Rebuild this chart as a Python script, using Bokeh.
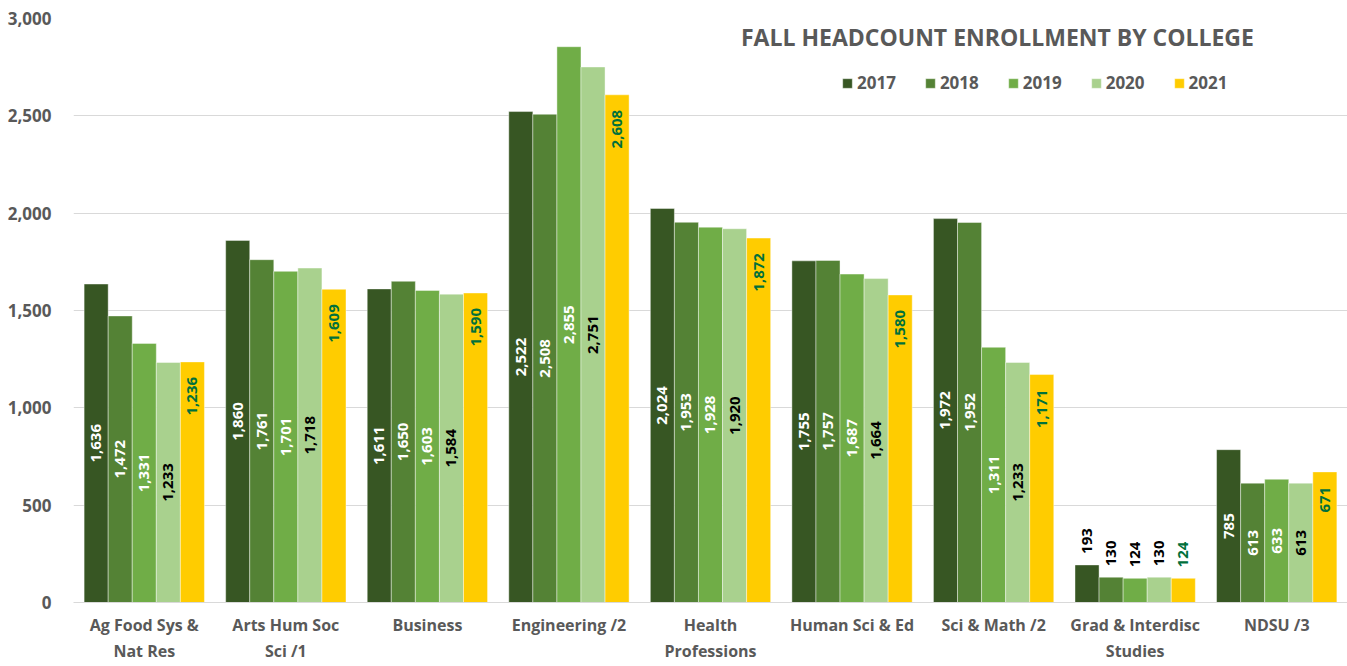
import math
from bokeh.plotting import figure
from bokeh.models import (ColumnDataSource, LabelSet, Label, Legend, LegendItem,
                          Range1d, FixedTicker, NumeralTickFormatter)
from bokeh.core.properties import value
from bokeh.embed import file_html
from bokeh.resources import INLINE

categories = ["Ag Food Sys &\nNat Res", "Arts Hum Soc\nSci /1", "Business", "Engineering /2",
              "Health\nProfessions", "Human Sci & Ed", "Sci & Math /2",
              "Grad & Interdisc\nStudies", "NDSU /3"]
years = ["2017", "2018", "2019", "2020", "2021"]
y2017 = [1636, 1860, 1611, 2522, 2024, 1755, 1972, 193, 785]
y2018 = [1472, 1761, 1650, 2508, 1953, 1757, 1952, 130, 613]
y2019 = [1331, 1701, 1603, 2855, 1928, 1687, 1311, 124, 633]
y2020 = [1233, 1718, 1584, 2751, 1920, 1664, 1233, 130, 613]
y2021 = [1236, 1609, 1590, 2608, 1872, 1580, 1171, 124, 671]
series = [y2017, y2018, y2019, y2020, y2021]
y_ticks = [0, 500, 1000, 1500, 2000, 2500, 3000]

colors = ["#375623", "#548235", "#70AD47", "#A9D18E", "#FFCC00"]
label_colors = ["#FFFFFF", "#FFFFFF", "#FFFFFF", "#000000", "#00703C"]
GREY = "#595959"
FONT = "Open Sans"

p = figure(width=1347, height=666, output_backend="svg", toolbar_location=None,
           x_range=Range1d(-0.5, 8.5), y_range=Range1d(0, 3000),
           min_border_left=73, min_border_right=0, min_border_top=18, min_border_bottom=64)
p.outline_line_color = None
p.background_fill_color = "white"
p.border_fill_color = "white"

bw = 0.17
offsets = [-2 * bw, -bw, 0, bw, 2 * bw]

legend_items = []
for i, (yr, vals) in enumerate(zip(years, series)):
    xs = [k + offsets[i] for k in range(len(categories))]
    src = ColumnDataSource(dict(x=xs, top=vals))
    r = p.vbar(x="x", top="top", width=bw, source=src, fill_color=colors[i],
               line_color="white", line_width=0.6, line_alpha=0.7)
    legend_items.append(LegendItem(label=yr, renderers=[r]))

    center = dict(x=[], y=[], t=[])
    inside = dict(x=[], y=[], t=[])
    outside = dict(x=[], y=[], t=[])
    for x, v in zip(xs, vals):
        txt = f"{v:,}"
        if v < 400:
            outside["x"].append(x); outside["y"].append(v); outside["t"].append(txt)
        elif i == 4:
            inside["x"].append(x); inside["y"].append(v); inside["t"].append(txt)
        else:
            center["x"].append(x); center["y"].append(v / 2); center["t"].append(txt)
    common = dict(x="x", y="y", text="t", angle=math.pi / 2, text_font=value(FONT),
                  text_font_size="15px", text_font_style="bold", text_baseline="middle")
    if center["x"]:
        p.add_layout(LabelSet(source=ColumnDataSource(center), text_align="center",
                              text_color=label_colors[i], **common))
    if inside["x"]:
        p.add_layout(LabelSet(source=ColumnDataSource(inside), text_align="right",
                              y_offset=-15, text_color=label_colors[i], **common))
    if outside["x"]:
        oc = "#00703C" if i == 4 else "#000000"
        p.add_layout(LabelSet(source=ColumnDataSource(outside), text_align="left",
                              y_offset=11, text_color=oc, **common))

# axes
p.xaxis.ticker = FixedTicker(ticks=list(range(len(categories))))
p.xaxis.major_label_overrides = {k: c for k, c in enumerate(categories)}
p.xaxis.major_tick_line_color = None
p.xaxis.minor_tick_line_color = None
p.xaxis.axis_line_color = "#D9D9D9"
p.xaxis.major_label_text_font = FONT
p.xaxis.major_label_text_font_style = "bold"
p.xaxis.major_label_text_font_size = "16px"
p.xaxis.major_label_text_color = GREY
p.xaxis.major_label_standoff = 5
p.xgrid.grid_line_color = None

p.yaxis.ticker = FixedTicker(ticks=y_ticks)
p.yaxis.formatter = NumeralTickFormatter(format="0,0")
p.yaxis.axis_line_color = None
p.yaxis.major_tick_line_color = None
p.yaxis.minor_tick_line_color = None
p.yaxis.major_label_text_font = FONT
p.yaxis.major_label_text_font_style = "bold"
p.yaxis.major_label_text_font_size = "17px"
p.yaxis.major_label_text_color = GREY
p.yaxis.major_label_standoff = 16
p.ygrid.grid_line_color = "#D9D9D9"
p.ygrid.grid_line_width = 1

p.add_layout(Label(x=6.027, y=2905, text="FALL HEADCOUNT ENROLLMENT BY COLLEGE",
                   text_align="center", text_baseline="middle", text_font=FONT,
                   text_font_style="bold", text_font_size="23px", text_color=GREY))

legend = Legend(items=legend_items, orientation="horizontal", location=(768, 508),
                border_line_color=None, background_fill_alpha=0, padding=0, margin=0,
                spacing=28, glyph_width=12, glyph_height=12, label_standoff=4,
                label_text_font=FONT, label_text_font_style="bold",
                label_text_font_size="17px", label_text_color=GREY)
p.add_layout(legend)

open("out.html", "w").write(file_html(p, INLINE))
